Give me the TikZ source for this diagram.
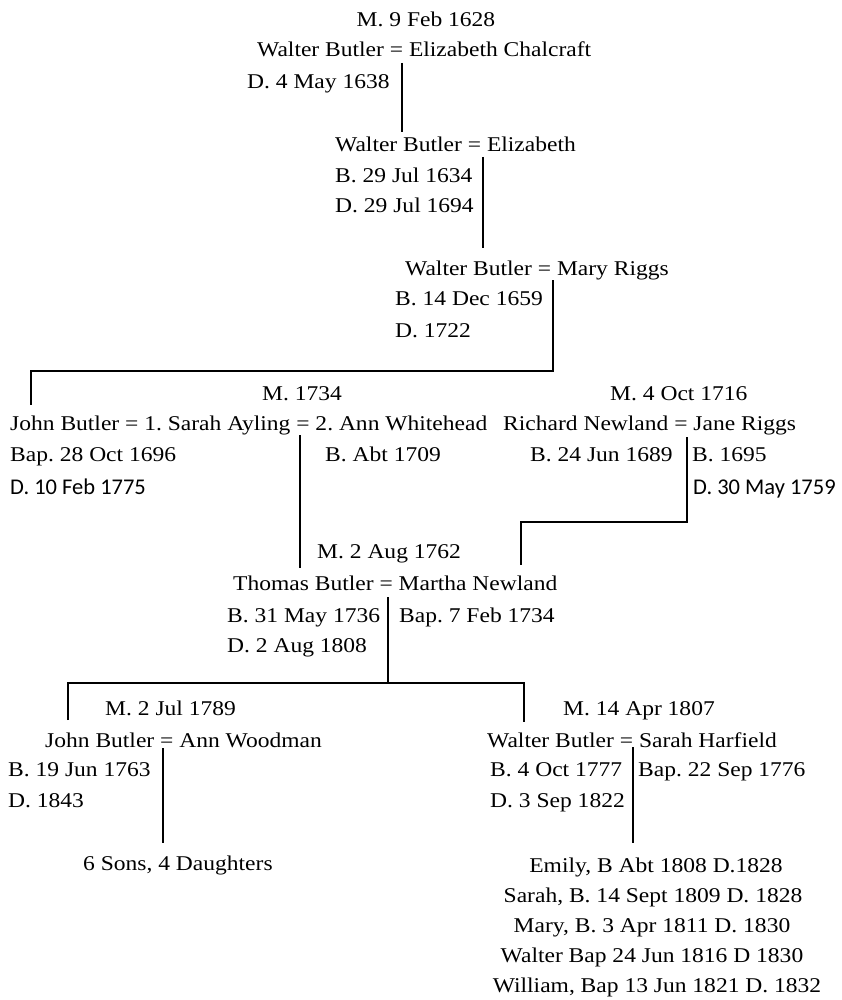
\documentclass[tikz,border=0pt]{standalone}
\usepackage{fontspec}
\setmainfont{Liberation Serif}[FakeStretch=1.12]
\newfontfamily\calfont{Carlito}
\frenchspacing
\begin{document}
\begin{tikzpicture}[x=1pt,y=-1pt,
  txt/.style={inner sep=0pt, anchor=base west, font=\fontsize{21}{25}\selectfont},
  ctxt/.style={inner sep=0pt, anchor=base, font=\fontsize{21}{25}\selectfont},
  cal/.style={inner sep=0pt, anchor=base west, font=\calfont\fontsize{22.5}{27}\selectfont},
  conn/.style={line width=2.7pt, line join=miter}]
\useasboundingbox (0,0) rectangle (842,1000);
% generation 1
\node[ctxt] (m1) at (426,27) {M. 9 Feb 1628};
\node[txt] (c1) at (257,57) {Walter Butler = Elizabeth Chalcraft};
\node[txt] (d1) at (247,89) {D. 4 May 1638};
% generation 2
\node[txt] (c2) at (335,152) {Walter Butler = Elizabeth};
\node[txt] (b2) at (335,183) {B. 29 Jul 1634};
\node[txt] (d2) at (335,213) {D. 29 Jul 1694};
% generation 3
\node[txt] (c3) at (405,275) {Walter Butler = Mary Riggs};
\node[txt] (b3) at (395,305) {B. 14 Dec 1659};
\node[txt] (d3) at (395,337) {D. 1722};
% generation 4 left
\node[ctxt] (m4) at (302,400) {M. 1734};
\node[txt] (c4) at (10,430) {John Butler = 1. Sarah Ayling = 2. Ann Whitehead};
\node[txt] (b4) at (10,461) {Bap. 28 Oct 1696};
\node[txt] (b4w) at (325,461) {B. Abt 1709};
\node[cal] (d4) at (10,494) {D. 10 Feb 1775};
% generation 4 right
\node[txt] (m5) at (610,400) {M. 4 Oct 1716};
\node[txt] (c5) at (503,430) {Richard Newland = Jane Riggs};
\node[txt] (b5) at (530,461) {B. 24 Jun 1689};
\node[txt] (b5w) at (692,461) {B. 1695};
\node[cal] (d5) at (693,494) {D. 30 May 1759};
% generation 5
\node[txt] (m6) at (317,558) {M. 2 Aug 1762};
\node[txt] (c6) at (233,590) {Thomas Butler = Martha Newland};
\node[txt] (b6) at (227,622) {B. 31 May 1736};
\node[txt] (b6w) at (399,622) {Bap. 7 Feb 1734};
\node[txt] (d6) at (227,652) {D. 2 Aug 1808};
% generation 6 left
\node[txt] (m7) at (105,715) {M. 2 Jul 1789};
\node[txt] (c7) at (45,747) {John Butler = Ann Woodman};
\node[txt] (b7) at (8,776) {B. 19 Jun 1763};
\node[txt] (d7) at (8,807) {D. 1843};
\node[txt] (k7) at (83,870) {6 Sons, 4 Daughters};
% generation 6 right
\node[txt] (m8) at (563,715) {M. 14 Apr 1807};
\node[txt] (c8) at (487,747) {Walter Butler = Sarah Harfield};
\node[txt] (b8) at (490,776) {B. 4 Oct 1777};
\node[txt] (b8w) at (638,776) {Bap. 22 Sep 1776};
\node[txt] (d8) at (490,807) {D. 3 Sep 1822};
\node[ctxt] (k1) at (656,872) {Emily, B Abt 1808 D.1828};
\node[ctxt] (k2) at (653,902) {Sarah, B. 14 Sept 1809 D. 1828};
\node[ctxt] (k3) at (652,932) {Mary, B. 3 Apr 1811 D. 1830};
\node[ctxt] (k4) at (652,962) {Walter Bap 24 Jun 1816 D 1830};
\node[ctxt] (k5) at (657,992) {William, Bap 13 Jun 1821 D. 1832};
% connector points
\coordinate (p1a) at (402,63);  \coordinate (p1b) at (402,132);
\coordinate (p2a) at (483,157); \coordinate (p2b) at (483,248);
\coordinate (p3a) at (553,280); \coordinate (p3b) at (553,371);
\coordinate (p3c) at (31,371);  \coordinate (p3d) at (31,405);
\coordinate (p4a) at (300,435); \coordinate (p4b) at (300,568);
\coordinate (p5a) at (687,437); \coordinate (p5b) at (687,522);
\coordinate (p5c) at (521,522); \coordinate (p5d) at (521,565);
\coordinate (p6a) at (388,597); \coordinate (p6b) at (388,683);
\coordinate (p6l) at (68,683);  \coordinate (p6r) at (524,683);
\coordinate (p6ld) at (68,720); \coordinate (p6rd) at (524,722);
\coordinate (p7a) at (163,748); \coordinate (p7b) at (163,843);
\coordinate (p8a) at (633,747); \coordinate (p8b) at (633,843);
% connectors
\draw[conn] (p1a) -- (p1b);
\draw[conn] (p2a) -- (p2b);
\draw[conn] (p3a) -- (p3b) -- (p3c) -- (p3d);
\draw[conn] (p4a) -- (p4b);
\draw[conn] (p5a) -- (p5b) -- (p5c) -- (p5d);
\draw[conn] (p6a) -- (p6b);
\draw[conn] (p6ld) -- (p6l) -- (p6r) -- (p6rd);
\draw[conn] (p7a) -- (p7b);
\draw[conn] (p8a) -- (p8b);
\end{tikzpicture}
\end{document}
